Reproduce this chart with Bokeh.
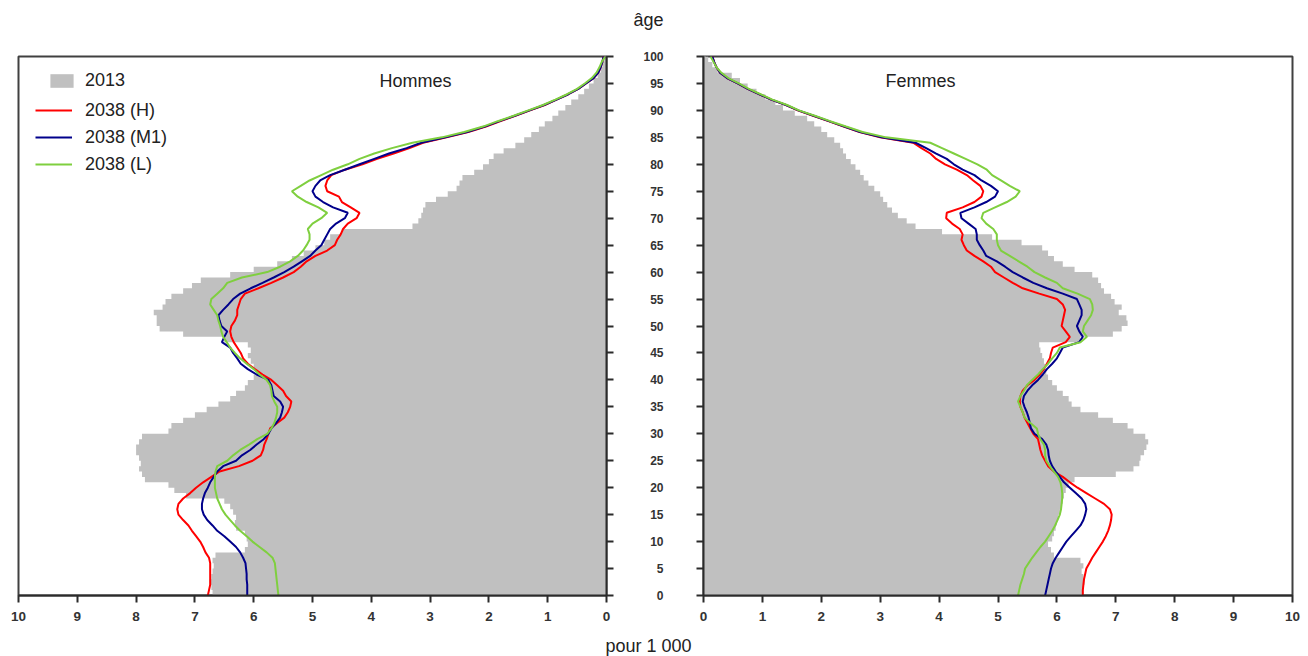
from bokeh.plotting import figure
from bokeh.models import Range1d, FixedTicker, LinearAxis, Label, Legend, LegendItem
from bokeh.layouts import column, row
from bokeh.embed import file_html
from bokeh.resources import INLINE

ages = list(range(101))

men_2013 = [6.70, 6.72, 6.75, 6.72, 6.70, 6.68, 6.70, 6.65, 6.15, 6.10,
            6.12, 6.15, 6.30, 6.32, 6.30, 6.35, 6.40, 6.50, 7.15, 7.35,
            7.45, 7.85, 7.90, 7.95, 7.92, 7.95, 8.00, 8.00, 7.95, 7.90,
            7.45, 7.40, 7.20, 7.00, 6.80, 6.60, 6.40, 6.30, 6.15, 6.10,
            6.00, 5.95, 6.00, 6.05, 6.10, 6.05, 6.10, 6.50, 7.20, 7.60,
            7.65, 7.65, 7.70, 7.55, 7.50, 7.40, 7.20, 7.05, 6.90, 6.40,
            6.00, 5.60, 5.35, 5.15, 4.95, 4.80, 4.70, 4.50, 3.30, 3.20,
            3.15, 3.12, 3.08, 2.90, 2.70, 2.55, 2.50, 2.45, 2.25, 2.10,
            2.00, 1.92, 1.75, 1.55, 1.40, 1.28, 1.15, 1.05, 0.92, 0.82,
            0.70, 0.60, 0.48, 0.38, 0.30, 0.22, 0.15, 0.10, 0.07, 0.04,
            0.02]

men_2038_H = [6.78, 6.76, 6.74, 6.74, 6.74, 6.74, 6.74, 6.76, 6.82, 6.86,
              6.91, 6.98, 7.05, 7.11, 7.20, 7.28, 7.30, 7.28, 7.20, 7.08,
              6.98, 6.86, 6.72, 6.58, 6.25, 6.02, 5.88, 5.84, 5.82, 5.78,
              5.75, 5.72, 5.60, 5.48, 5.42, 5.38, 5.36, 5.45, 5.50, 5.60,
              5.70, 5.85, 5.98, 6.10, 6.18, 6.22, 6.28, 6.34, 6.38, 6.40,
              6.38, 6.32, 6.28, 6.28, 6.25, 6.22, 6.15, 5.92, 5.70, 5.50,
              5.32, 5.20, 5.10, 4.95, 4.75, 4.62, 4.58, 4.52, 4.48, 4.40,
              4.25, 4.20, 4.35, 4.50, 4.55, 4.75, 4.78, 4.75, 4.68, 4.45,
              4.15, 3.90, 3.62, 3.35, 3.12, 2.72, 2.35, 2.05, 1.80, 1.55,
              1.30, 1.05, 0.85, 0.65, 0.48, 0.35, 0.22, 0.14, 0.10, 0.07,
              0.05]

men_2038_M1 = [6.11, 6.11, 6.11, 6.12, 6.12, 6.13, 6.14, 6.18, 6.23, 6.30,
               6.40, 6.50, 6.62, 6.70, 6.79, 6.85, 6.88, 6.88, 6.86, 6.83,
               6.78, 6.74, 6.68, 6.62, 6.52, 6.30, 6.20, 6.06, 5.95, 5.83,
               5.75, 5.70, 5.62, 5.55, 5.52, 5.50, 5.55, 5.66, 5.68, 5.70,
               5.75, 5.95, 6.10, 6.22, 6.28, 6.35, 6.40, 6.54, 6.50, 6.45,
               6.55, 6.58, 6.60, 6.52, 6.43, 6.35, 6.23, 6.05, 5.85, 5.66,
               5.48, 5.32, 5.18, 5.04, 4.95, 4.85, 4.80, 4.75, 4.70, 4.60,
               4.45, 4.40, 4.65, 4.82, 4.95, 5.00, 4.95, 4.87, 4.70, 4.45,
               4.20, 3.95, 3.70, 3.40, 3.15, 2.74, 2.37, 2.07, 1.82, 1.56,
               1.31, 1.06, 0.85, 0.65, 0.48, 0.35, 0.22, 0.14, 0.10, 0.07,
               0.05]

men_2038_L = [5.58, 5.59, 5.60, 5.61, 5.62, 5.63, 5.64, 5.68, 5.78, 5.90,
              6.02, 6.12, 6.23, 6.32, 6.40, 6.48, 6.54, 6.58, 6.62, 6.64,
              6.66, 6.66, 6.66, 6.65, 6.62, 6.45, 6.35, 6.23, 6.08, 5.94,
              5.77, 5.70, 5.65, 5.62, 5.60, 5.60, 5.65, 5.69, 5.70, 5.72,
              5.78, 5.90, 6.00, 6.12, 6.23, 6.32, 6.40, 6.46, 6.52, 6.55,
              6.57, 6.60, 6.62, 6.68, 6.74, 6.72, 6.62, 6.52, 6.45, 6.20,
              5.77, 5.55, 5.38, 5.25, 5.16, 5.10, 5.05, 5.05, 5.08, 5.00,
              4.85, 4.75, 4.90, 5.10, 5.25, 5.35, 5.20, 5.05, 4.85, 4.65,
              4.40, 4.20, 3.95, 3.65, 3.30, 2.80, 2.42, 2.10, 1.85, 1.58,
              1.33, 1.08, 0.87, 0.67, 0.50, 0.37, 0.25, 0.17, 0.12, 0.08,
              0.02]

women_2013 = [6.45, 6.45, 6.47, 6.45, 6.42, 6.45, 6.40, 5.95, 5.90, 5.85,
              5.92, 5.95, 5.98, 6.00, 6.02, 6.05, 6.08, 6.10, 6.12, 6.15,
              6.20, 6.30, 7.00, 7.30, 7.40, 7.42, 7.48, 7.52, 7.55, 7.50,
              7.30, 7.20, 6.95, 6.70, 6.40, 6.25, 6.20, 6.10, 6.00, 5.92,
              5.85, 5.82, 5.80, 5.78, 5.75, 5.72, 5.70, 6.40, 6.95, 7.10,
              7.20, 7.18, 7.05, 7.10, 6.98, 6.92, 6.80, 6.75, 6.70, 6.60,
              6.30, 6.10, 5.95, 5.85, 5.75, 5.40, 4.90, 4.05, 3.60, 3.45,
              3.30, 3.20, 3.12, 3.05, 3.00, 2.90, 2.80, 2.72, 2.66, 2.58,
              2.50, 2.42, 2.37, 2.32, 2.22, 2.10, 2.00, 1.88, 1.76, 1.55,
              1.35, 1.22, 1.05, 0.90, 0.75, 0.62, 0.48, 0.24, 0.15, 0.08,
              0.04]

women_2038_H = [6.44, 6.44, 6.45, 6.46, 6.48, 6.50, 6.55, 6.60, 6.66, 6.72,
                6.78, 6.83, 6.87, 6.90, 6.92, 6.93, 6.90, 6.80, 6.65, 6.50,
                6.35, 6.22, 6.10, 5.95, 5.85, 5.80, 5.75, 5.72, 5.70, 5.68,
                5.60, 5.55, 5.50, 5.45, 5.42, 5.38, 5.37, 5.38, 5.42, 5.50,
                5.62, 5.71, 5.78, 5.83, 5.88, 5.90, 5.93, 6.15, 6.22, 6.15,
                6.08, 6.10, 6.12, 6.14, 6.10, 6.00, 5.70, 5.42, 5.25, 5.10,
                4.95, 4.88, 4.75, 4.60, 4.47, 4.42, 4.38, 4.40, 4.35, 4.22,
                4.12, 4.13, 4.40, 4.60, 4.72, 4.75, 4.70, 4.58, 4.47, 4.30,
                4.10, 3.95, 3.85, 3.70, 3.56, 3.00, 2.65, 2.38, 2.12, 1.86,
                1.60, 1.40, 1.15, 0.95, 0.75, 0.58, 0.40, 0.28, 0.22, 0.18,
                0.15]

women_2038_M1 = [5.80, 5.82, 5.84, 5.86, 5.88, 5.90, 5.93, 5.98, 6.04, 6.10,
                 6.16, 6.24, 6.32, 6.40, 6.45, 6.48, 6.50, 6.48, 6.42, 6.32,
                 6.22, 6.12, 6.05, 5.98, 5.92, 5.88, 5.86, 5.85, 5.82, 5.75,
                 5.62, 5.56, 5.54, 5.52, 5.49, 5.45, 5.42, 5.44, 5.50, 5.58,
                 5.68, 5.76, 5.83, 5.92, 6.00, 6.05, 6.10, 6.38, 6.44, 6.38,
                 6.34, 6.38, 6.42, 6.42, 6.38, 6.34, 6.10, 5.83, 5.60, 5.42,
                 5.25, 5.12, 4.98, 4.80, 4.75, 4.69, 4.64, 4.64, 4.62, 4.50,
                 4.38, 4.36, 4.60, 4.80, 4.95, 5.00, 4.88, 4.72, 4.60, 4.40,
                 4.25, 4.13, 3.95, 3.78, 3.60, 3.02, 2.66, 2.39, 2.13, 1.87,
                 1.61, 1.40, 1.15, 0.95, 0.75, 0.58, 0.40, 0.28, 0.22, 0.18,
                 0.15]

women_2038_L = [5.34, 5.36, 5.38, 5.41, 5.44, 5.46, 5.52, 5.58, 5.65, 5.72,
                5.80, 5.86, 5.92, 5.97, 6.01, 6.05, 6.07, 6.08, 6.09, 6.09,
                6.08, 6.06, 6.02, 5.95, 5.88, 5.82, 5.80, 5.80, 5.78, 5.72,
                5.68, 5.66, 5.55, 5.45, 5.42, 5.38, 5.34, 5.38, 5.44, 5.49,
                5.58, 5.68, 5.76, 5.85, 5.92, 6.00, 6.05, 6.40, 6.51, 6.44,
                6.46, 6.52, 6.58, 6.61, 6.60, 6.56, 6.35, 6.10, 6.00, 5.80,
                5.62, 5.50, 5.35, 5.20, 5.05, 5.00, 4.98, 4.98, 4.92, 4.80,
                4.72, 4.75, 4.95, 5.15, 5.30, 5.37, 5.20, 5.05, 4.90, 4.81,
                4.65, 4.45, 4.25, 4.05, 3.85, 3.10, 2.70, 2.42, 2.15, 1.89,
                1.62, 1.42, 1.17, 0.97, 0.77, 0.60, 0.42, 0.30, 0.22, 0.17,
                0.12]

x_ticks = list(range(0, 11))
age_ticks = list(range(0, 101, 5))
series_labels = ["2013", "2038 (H)", "2038 (M1)", "2038 (L)"]

FONT = "Liberation Sans"
GRAY = "#C0C0C0"
RED = "#FF0000"
BLUE = "#00008B"
GREEN = "#7FCF3F"
AXIS = "#2b2b2b"
TXT = "#222222"


def step_polygon(vals):
    xs, ys = [0.0], [0.0]
    for a, v in zip(ages, vals):
        xs += [v, v]
        ys += [a, a + 1]
    xs.append(0.0)
    ys.append(ages[-1] + 1)
    return xs, ys


def style_axis(ax):
    ax.axis_line_color = AXIS
    ax.axis_line_width = 2
    ax.major_tick_line_color = AXIS
    ax.major_tick_line_width = 2
    ax.major_tick_out = 7
    ax.major_tick_in = 0
    ax.minor_tick_line_color = None
    ax.major_label_text_font = FONT
    ax.major_label_text_font_style = "bold"
    ax.major_label_text_color = "#333333"


def make_panel(x_range, width, left_border, right_border, yside, show_age_labels):
    p = figure(width=width, height=600, x_range=x_range, y_range=Range1d(0, 100),
               output_backend="svg", toolbar_location=None,
               x_axis_type=None, y_axis_type=None,
               min_border_left=left_border, min_border_right=right_border,
               min_border_top=26, min_border_bottom=35)
    p.outline_line_color = "#404040"
    p.outline_line_width = 2
    p.background_fill_color = "white"
    p.border_fill_color = "white"

    xa = LinearAxis(ticker=FixedTicker(ticks=x_ticks))
    style_axis(xa)
    xa.major_label_text_font_size = "13.5px"
    xa.major_label_standoff = 9
    p.add_layout(xa, "below")

    ya = LinearAxis(ticker=FixedTicker(ticks=age_ticks))
    style_axis(ya)
    if show_age_labels:
        ya.major_label_text_font_size = "12px"
        ya.major_label_standoff = 33
    else:
        ya.major_label_overrides = {t: "" for t in age_ticks}
        ya.major_label_text_font_size = "0px"
        ya.major_label_standoff = 0
    p.add_layout(ya, yside)
    return p


def draw(p, base, h, m1, l):
    xs, ys = step_polygon(base)
    r0 = p.patch(xs, ys, fill_color=GRAY, line_color=None)
    r1 = p.line(h, ages, line_color=RED, line_width=2)
    r2 = p.line(m1, ages, line_color=BLUE, line_width=2)
    r3 = p.line(l, ages, line_color=GREEN, line_width=2)
    return [r0, r1, r2, r3]


def text_label(x, y, s):
    return Label(x=x, y=y, x_units="screen", y_units="screen", text=s,
                 text_align="center", text_baseline="middle", text_font=FONT,
                 text_font_size="18px", text_color=TXT)


left = make_panel(Range1d(10, 0), 625, 18, 19, "right", False)
rl = draw(left, men_2013, men_2038_H, men_2038_M1, men_2038_L)

right = make_panel(Range1d(0, 10), 683, 78, 16, "left", True)
draw(right, women_2013, women_2038_H, women_2038_M1, women_2038_L)

legend_box = Legend(items=[LegendItem(label=series_labels[0], renderers=[rl[0]])],
                    location=(29, 503), border_line_color=None, background_fill_alpha=0,
                    padding=0, margin=0, spacing=0, glyph_width=29, glyph_height=17,
                    label_height=24, label_standoff=9, label_text_font=FONT,
                    label_text_font_size="18px", label_text_color=TXT)
left.add_layout(legend_box)

legend_lines = Legend(items=[LegendItem(label=lab, renderers=[r])
                             for lab, r in zip(series_labels[1:], rl[1:])],
                      location=(17, 419), border_line_color=None, background_fill_alpha=0,
                      padding=0, margin=0, spacing=3, glyph_width=37, glyph_height=24,
                      label_height=24, label_standoff=13, label_text_font=FONT,
                      label_text_font_size="18px", label_text_color=TXT)
left.add_layout(legend_lines)

left.add_layout(text_label(397, 515, "Hommes"))
right.add_layout(text_label(217, 515, "Femmes"))

top = figure(width=1308, height=30, x_range=Range1d(0, 1308), y_range=Range1d(0, 30),
             output_backend="svg", toolbar_location=None, x_axis_type=None, y_axis_type=None,
             min_border=0)
top.outline_line_color = None
top.add_layout(text_label(648, 11, "âge"))

bottom = figure(width=1308, height=26, x_range=Range1d(0, 1308), y_range=Range1d(0, 26),
                output_backend="svg", toolbar_location=None, x_axis_type=None, y_axis_type=None,
                min_border=0)
bottom.outline_line_color = None
bottom.add_layout(text_label(648, 11, "pour 1 000"))

layout = column(top, row(left, right), bottom)
open("out.html", "w").write(file_html(layout, INLINE))
